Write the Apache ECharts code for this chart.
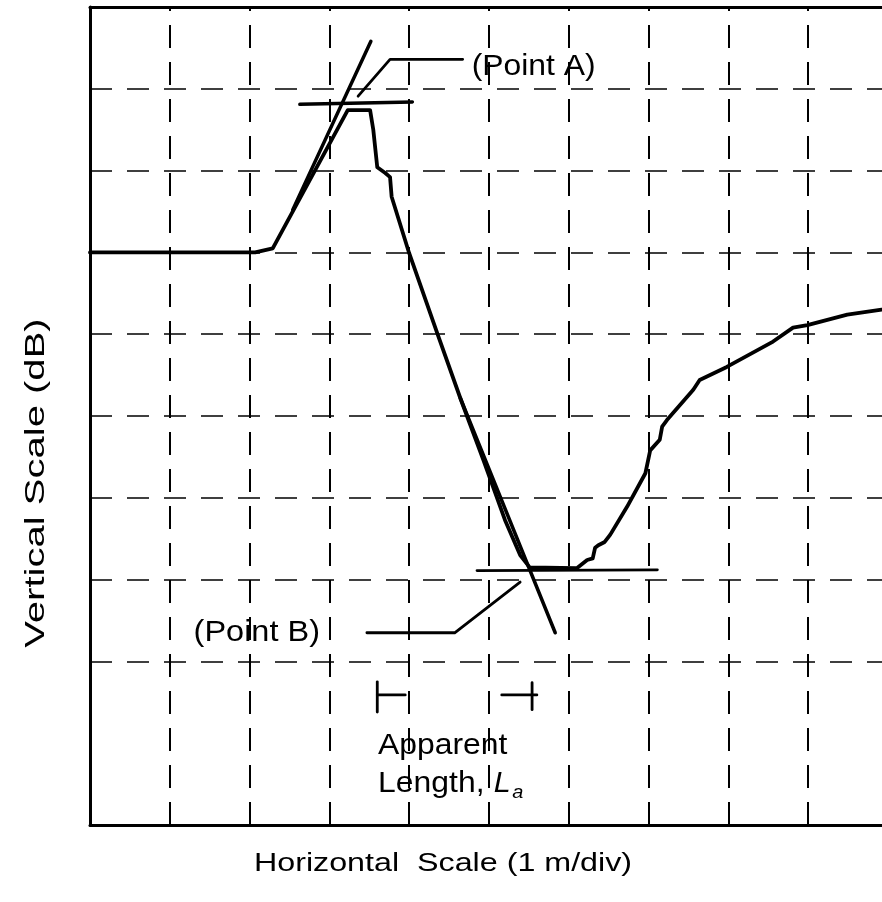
<!DOCTYPE html>
<html>
<head>
<meta charset="utf-8">
<script src="https://cdn.jsdelivr.net/npm/echarts@6/dist/echarts.min.js"></script>
<style>
  html, body { margin: 0; padding: 0; background: #fff; }
  #chart { width: 882px; height: 902px; }
</style>
</head>
<body>
<div id="chart"></div>
<script>
// Reflectance trace on the screen graticule (x: 1 m/div, y: dB/div)
const traceX = [0, 2.07, 2.29, 3.23, 3.51, 3.55, 3.60, 3.70, 3.76, 3.78, 4.00, 4.36, 4.64, 4.93,
  5.20, 5.39, 5.51, 6.10, 6.23, 6.30, 6.33, 6.37, 6.45, 6.52, 6.73, 6.96, 7.02, 7.14, 7.17,
  7.23, 7.56, 7.64, 7.98, 8.56, 8.81, 8.99, 9.49, 9.92];
const traceY = [7.00, 7.00, 7.05, 8.74, 8.74, 8.50, 8.04, 7.97, 7.92, 7.68, 6.99, 5.99, 5.22, 4.46,
  3.73, 3.30, 3.15, 3.14, 3.24, 3.26, 3.39, 3.42, 3.46, 3.55, 3.89, 4.30, 4.58, 4.71, 4.87,
  4.95, 5.32, 5.44, 5.60, 5.91, 6.08, 6.11, 6.24, 6.30];

// Visible part of the screen, in divisions
const xRange = [0, 9.925];
const yRange = [0, 10];

// Construction lines for the two reference points
const tangentA = [[2.54, 7.52], [3.52, 9.58]];
const levelA = [[2.63, 8.81], [4.04, 8.84]];
const tangentB = [[4.64, 5.22], [5.83, 2.35]];
const levelB = [[4.85, 3.11], [7.11, 3.12]];

// Leader lines to the point labels
const leaderA = [[3.36, 8.91], [3.76, 9.36], [4.67, 9.36]];
const leaderB = [[3.47, 2.35], [4.57, 2.35], [5.39, 2.97]];

// Apparent length end markers
const markerLeftBar = [[3.60, 1.75], [3.60, 1.38]];
const markerLeftArm = [[3.60, 1.59], [3.95, 1.59]];
const markerRightArm = [[5.16, 1.59], [5.60, 1.59]];
const markerRightBar = [[5.54, 1.74], [5.54, 1.41]];

// Graticule lines (no horizontal line at 1 div)
const xGridLines = [1, 2, 3, 4, 5, 6, 7, 8, 9];
const yGridLines = [2, 3, 4, 5, 6, 7, 8, 9];

const FONT = '"Liberation Sans", Arial, sans-serif';

function lineSeries(name, data, width, extra) {
  return Object.assign({
    name: name,
    type: 'line',
    data: data,
    symbol: 'none',
    showSymbol: false,
    silent: true,
    animation: false,
    z: 5,
    lineStyle: { color: '#000', width: width, cap: 'round', join: 'round' }
  }, extra || {});
}

const hiddenParts = {
  axisTick: { show: false }, axisLabel: { show: false }, splitLine: { show: false }
};
const borderLine = { show: true, onZero: false, lineStyle: { color: '#000', width: 3 } };

const chart = echarts.init(document.getElementById('chart'), null, { renderer: 'canvas' });

chart.setOption({
  animation: false,
  backgroundColor: '#fff',
  grid: { left: 90, right: 0, top: 7, bottom: 77, show: false },
  xAxis: [
    Object.assign({ type: 'value', position: 'bottom', min: xRange[0], max: xRange[1], axisLine: borderLine }, hiddenParts),
    Object.assign({ type: 'value', position: 'top', min: xRange[0], max: xRange[1], axisLine: borderLine }, hiddenParts)
  ],
  yAxis: Object.assign({ type: 'value', position: 'left', min: yRange[0], max: yRange[1], axisLine: borderLine }, hiddenParts),
  series: [
    lineSeries('trace', traceX.map((x, i) => [x, traceY[i]]), 3.8, {
      markLine: {
        silent: true, symbol: 'none', animation: false,
        label: { show: false },
        data: yGridLines.map(v => ({ yAxis: v, lineStyle: { color: '#000', width: 1.7, type: [22, 15] } }))
          .concat(xGridLines.map(v => ({ xAxis: v, lineStyle: { color: '#000', width: 2, type: [23, 14] } })))
      }
    }),
    lineSeries('tangentA', tangentA, 3.5),
    lineSeries('levelA', levelA, 3.5),
    lineSeries('tangentB', tangentB, 3.5),
    lineSeries('levelB', levelB, 2.8),
    lineSeries('leaderA', leaderA, 2.8),
    lineSeries('leaderB', leaderB, 2.8),
    lineSeries('markerLeftBar', markerLeftBar, 2.8),
    lineSeries('markerLeftArm', markerLeftArm, 2.8),
    lineSeries('markerRightArm', markerRightArm, 2.8),
    lineSeries('markerRightBar', markerRightBar, 2.8)
  ]
});

// Annotation text placed in data coordinates
const px = p => chart.convertToPixel({ gridIndex: 0 }, p);

function label(text, pos, opts) {
  const p = px(pos);
  const o = opts || {};
  return {
    type: 'text',
    x: p[0], y: p[1],
    scaleX: o.scaleX || 1,
    z: 10,
    silent: true,
    style: {
      text: text,
      font: (o.italic ? 'italic ' : '') + (o.size || 29) + 'px ' + FONT,
      fill: '#000',
      align: o.align || 'center',
      textAlign: o.align || 'center',
      verticalAlign: 'middle',
      textVerticalAlign: 'middle'
    }
  };
}

function titleText(text, x, y, size, scaleX, rotation) {
  return {
    type: 'text',
    x: x, y: y,
    rotation: rotation || 0,
    scaleX: scaleX,
    silent: true,
    style: {
      text: text,
      font: size + 'px ' + FONT,
      fill: '#000',
      align: 'center', textAlign: 'center',
      verticalAlign: 'middle', textVerticalAlign: 'middle'
    }
  };
}

chart.setOption({
  graphic: [
    label('(Point A)', [5.56, 9.27], { scaleX: 1.1 }),
    label('(Point B)', [2.09, 2.35], { scaleX: 1.12 }),
    label('Apparent', [4.42, 0.97], { scaleX: 1.1 }),
    label('Length,', [3.61, 0.50], { align: 'left', scaleX: 1.1 }),
    label('L', [5.06, 0.50], { align: 'left', italic: true, scaleX: 1.05 }),
    label('a', [5.29, 0.40], { align: 'left', italic: true, size: 19, scaleX: 1.05 }),
    titleText('Horizontal  Scale (1 m/div)', 443, 864, 25, 1.29, 0),
    titleText('Vertical Scale (dB)', 36, 483, 28, 1.43, Math.PI / 2)
  ]
});
</script>
</body>
</html>
